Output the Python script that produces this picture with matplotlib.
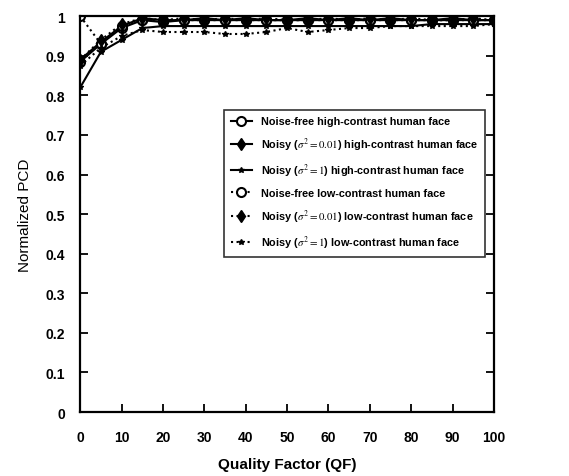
import numpy as np
import matplotlib
matplotlib.use('Agg')
import matplotlib.pyplot as plt

plt.rcParams['font.family'] = ['Liberation Sans', 'DejaVu Sans']
plt.rcParams['mathtext.fontset'] = 'stix'

# Quality factor values
qf = [0, 5, 10, 15, 20, 25, 30, 35, 40, 45, 50, 55, 60, 65, 70, 75, 80, 85, 90, 95, 100]

# Normalized PCD per case
free_high = [0.885, 0.93, 0.97, 0.99, 0.985, 0.99, 0.99, 0.99, 0.99, 0.99, 0.99,
             0.99, 0.99, 0.99, 0.99, 0.99, 0.99, 0.99, 0.99, 0.99, 0.99]
noisy001_high = [0.89, 0.935, 0.975, 0.995, 0.99, 0.99, 0.995, 0.99, 0.995, 0.99, 0.99,
                 0.995, 0.99, 0.995, 0.99, 0.995, 0.99, 0.99, 0.995, 0.99, 0.99]
noisy1_high = [0.82, 0.91, 0.94, 0.97, 0.975, 0.975, 0.975, 0.975, 0.975, 0.975, 0.975,
               0.975, 0.975, 0.975, 0.975, 0.975, 0.975, 0.98, 0.98, 0.98, 0.98]
free_low = [1.0, 0.93, 0.975, 0.99, 0.99, 0.99, 0.99, 0.99, 0.99, 0.99, 0.99,
            0.99, 0.99, 0.99, 0.99, 0.99, 0.99, 0.99, 0.99, 0.99, 0.99]
noisy001_low = [0.89, 0.94, 0.98, 0.995, 0.99, 0.995, 0.99, 0.995, 0.99, 0.995, 0.99,
                0.99, 0.995, 0.99, 0.995, 0.99, 0.995, 0.99, 0.99, 0.995, 0.99]
noisy1_low = [0.875, 0.92, 0.95, 0.965, 0.96, 0.96, 0.96, 0.955, 0.955, 0.96, 0.97,
              0.96, 0.965, 0.97, 0.97, 0.975, 0.975, 0.975, 0.975, 0.975, 0.98]

labels = [
    'Noise-free high-contrast human face',
    r'Noisy ($\sigma^2=0.01$) high-contrast human face',
    r'Noisy ($\sigma^2=1$) high-contrast human face',
    'Noise-free low-contrast human face',
    r'Noisy ($\sigma^2=0.01$) low-contrast human face',
    r'Noisy ($\sigma^2=1$) low-contrast human face',
]

fig = plt.figure(figsize=(5.69, 4.77), dpi=100)
ax = fig.add_axes([0.141, 0.134, 0.727, 0.830])

ax.plot(qf, free_high, '-', color='k', lw=1.5, marker='o', ms=6.5, mfc='white', mew=1.5, label=labels[0])
ax.plot(qf, noisy001_high, '-', color='k', lw=1.5, marker='d', ms=6.5, mfc='k', label=labels[1])
ax.plot(qf, noisy1_high, '-', color='k', lw=1.5, marker='*', ms=4, label=labels[2])
ax.plot(qf, free_low, ':', color='k', lw=1.5, marker='o', ms=6.5, mfc='white', mew=1.5, label=labels[3])
ax.plot(qf, noisy001_low, ':', color='k', lw=1.5, marker='d', ms=6.5, mfc='k', label=labels[4])
ax.plot(qf, noisy1_low, ':', color='k', lw=1.5, marker='*', ms=4, label=labels[5])

ax.set_xlim(0, 100)
ax.set_ylim(0, 1)
ax.set_xticks(np.arange(0, 101, 10))
ax.set_yticks(np.arange(0, 1.01, 0.1))
ax.set_yticklabels(['0', '0.1', '0.2', '0.3', '0.4', '0.5', '0.6', '0.7', '0.8', '0.9', '1'])
ax.tick_params(axis='both', direction='in', length=6, width=1.3, labelsize=10)
ax.tick_params(axis='y', right=True, pad=11)
ax.tick_params(axis='x', pad=13)
for lab in ax.get_xticklabels() + ax.get_yticklabels():
    lab.set_fontweight('bold')
for sp in ax.spines.values():
    sp.set_linewidth(1.6)

ax.set_xlabel('Quality Factor (QF)', fontsize=11, fontweight='bold', labelpad=9)
ax.set_ylabel('Normalized PCD', fontsize=11, labelpad=10)

leg = ax.legend(loc='center', bbox_to_anchor=(0.663, 0.577),
                prop={'weight': 'bold', 'size': 7.8}, frameon=True, fancybox=False,
                edgecolor='k', handlelength=2.0, labelspacing=0.85, borderpad=0.6)
leg.get_frame().set_linewidth(1.2)

fig.savefig('out.png', dpi=100)
